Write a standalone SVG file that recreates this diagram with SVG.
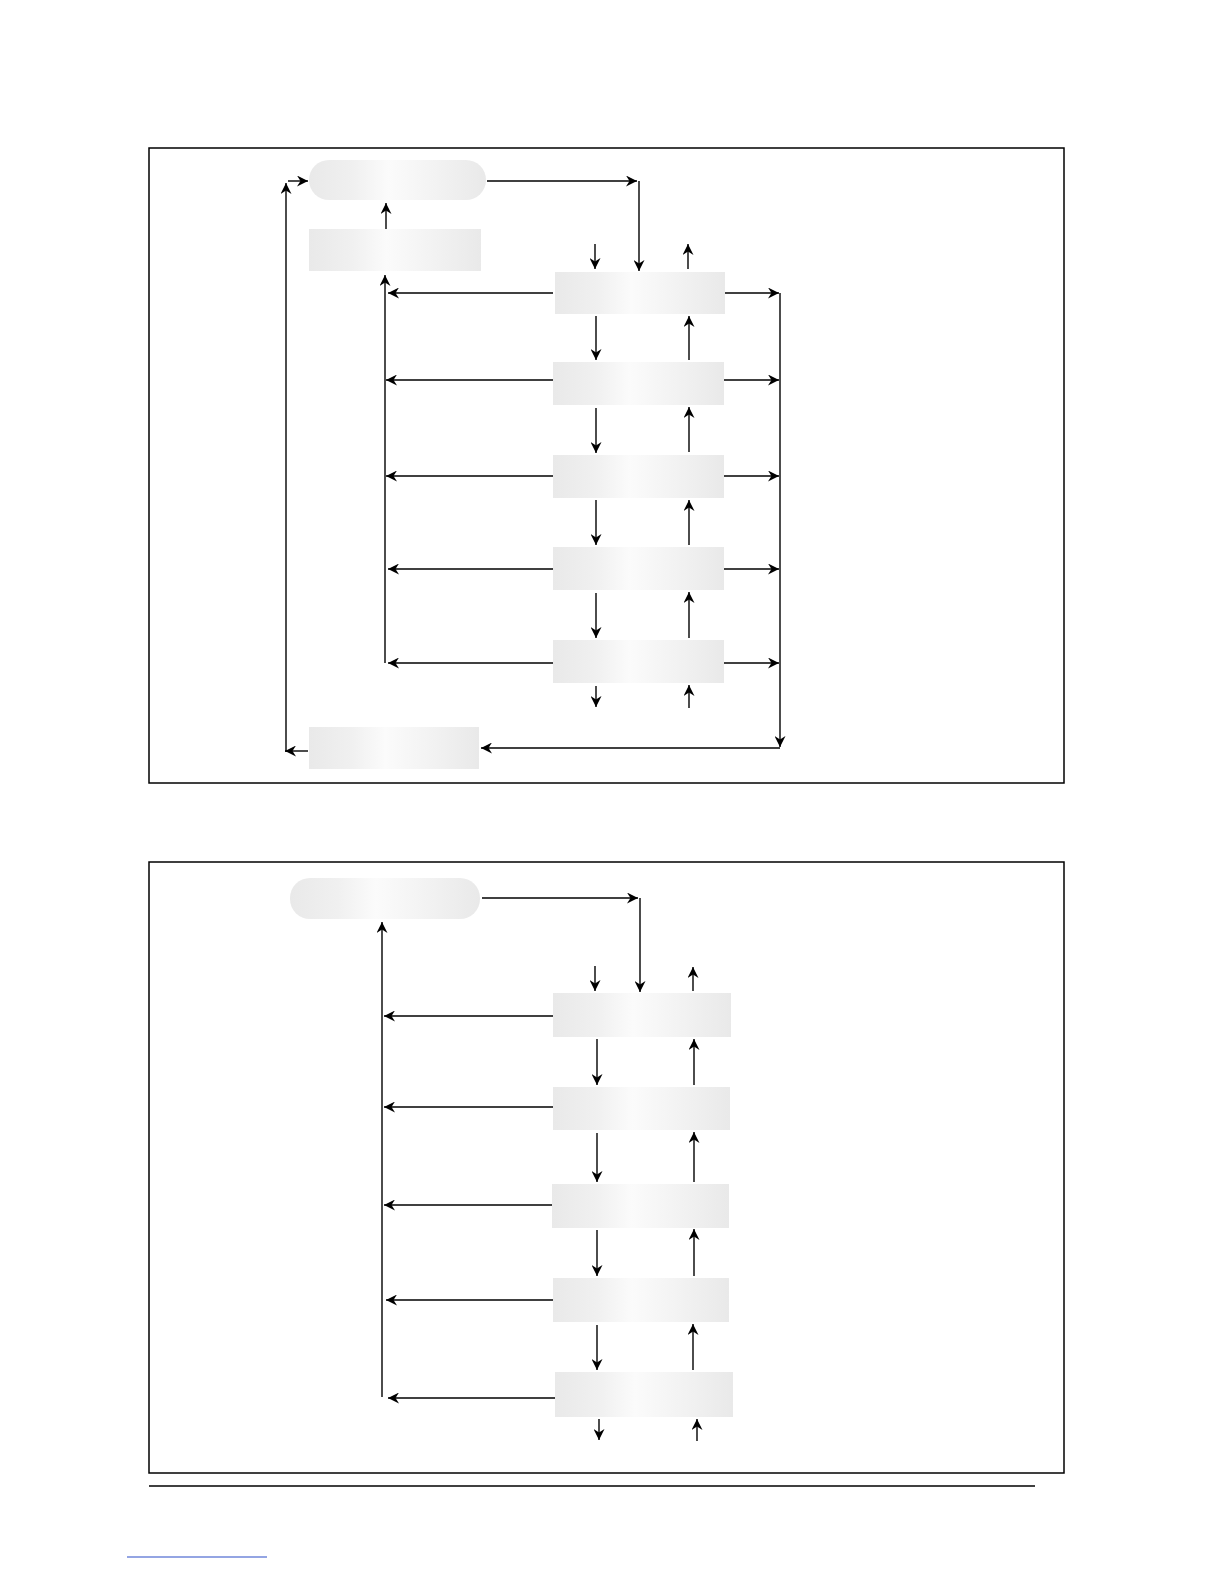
<svg xmlns="http://www.w3.org/2000/svg" width="1224" height="1584" viewBox="0 0 1224 1584">
<style>
.frame{fill:none;stroke:#000;stroke-width:1.5}
.box{fill:url(#g);filter:url(#soft)}
.c line{fill:none;stroke:#000;stroke-width:1.4;marker-end:url(#ah)}
</style>
<defs>
<linearGradient id="g" x1="0" y1="0" x2="1" y2="0">
<stop offset="0" stop-color="#e9e9e9"/>
<stop offset="0.25" stop-color="#f0f0f0"/>
<stop offset="0.45" stop-color="#fbfbfb"/>
<stop offset="0.7" stop-color="#f3f3f3"/>
<stop offset="1" stop-color="#e9e9e9"/>
</linearGradient>
<filter id="soft" x="-5%" y="-10%" width="110%" height="120%"><feGaussianBlur stdDeviation="0.7"/></filter>
<marker id="ah" markerUnits="userSpaceOnUse" markerWidth="12" markerHeight="11" refX="11" refY="5.5" orient="auto">
<path d="M0,0 L11,5.5 L0,11 L3.5,5.5 z" fill="#000"/>
</marker>
</defs>
<rect width="1224" height="1584" fill="#fff"/>

<rect class="frame" x="149" y="148" width="915" height="635"/>
<rect class="frame" x="149" y="862" width="915" height="611"/>
<line x1="149" y1="1486" x2="1035" y2="1486" stroke="#000" stroke-width="1.5"/>
<line x1="127" y1="1557" x2="267" y2="1557" stroke="#2a4cc8" stroke-width="1.2"/>

<!-- upper panel nodes -->
<g id="u-start"><rect class="box" x="309" y="160" width="177" height="40" rx="20"/></g>
<g id="u-a"><rect class="box" x="309" y="229" width="172" height="42"/></g>
<g id="u-1"><rect class="box" x="555" y="272" width="170" height="42"/></g>
<g id="u-2"><rect class="box" x="553" y="362" width="171" height="43"/></g>
<g id="u-3"><rect class="box" x="553" y="455" width="171" height="43"/></g>
<g id="u-4"><rect class="box" x="553" y="547" width="171" height="43"/></g>
<g id="u-5"><rect class="box" x="553" y="640" width="171" height="43"/></g>
<g id="u-b"><rect class="box" x="309" y="727" width="170" height="42"/></g>

<!-- lower panel nodes -->
<g id="l-start"><rect class="box" x="290" y="878" width="190" height="41" rx="20"/></g>
<g id="l-1"><rect class="box" x="553" y="993" width="178" height="44"/></g>
<g id="l-2"><rect class="box" x="553" y="1087" width="177" height="43"/></g>
<g id="l-3"><rect class="box" x="552" y="1184" width="177" height="44"/></g>
<g id="l-4"><rect class="box" x="553" y="1278" width="176" height="44"/></g>
<g id="l-5"><rect class="box" x="555" y="1372" width="178" height="45"/></g>

<g id="connectors" class="c">
<!-- upper -->
<line x1="286" y1="752" x2="286" y2="183"/>
<line x1="288" y1="181" x2="308" y2="181"/>
<line x1="386" y1="229" x2="386" y2="203"/>
<line x1="487" y1="181" x2="637" y2="181"/>
<line x1="639" y1="181" x2="639" y2="271"/>
<line x1="595" y1="244" x2="595" y2="269"/>
<line x1="688" y1="269" x2="688" y2="244"/>
<line x1="385" y1="663" x2="385" y2="275"/>
<line x1="553" y1="293" x2="388" y2="293"/>
<line x1="553" y1="380" x2="386" y2="380"/>
<line x1="553" y1="476" x2="386" y2="476"/>
<line x1="553" y1="569" x2="388" y2="569"/>
<line x1="553" y1="663" x2="388" y2="663"/>
<line x1="725" y1="293" x2="779" y2="293"/>
<line x1="724" y1="380" x2="779" y2="380"/>
<line x1="724" y1="476" x2="779" y2="476"/>
<line x1="724" y1="569" x2="779" y2="569"/>
<line x1="724" y1="663" x2="779" y2="663"/>
<line x1="780" y1="293" x2="780" y2="747"/>
<line x1="780" y1="748" x2="481" y2="748"/>
<line x1="308" y1="751" x2="285" y2="751"/>
<line x1="596" y1="316" x2="596" y2="360"/>
<line x1="596" y1="408" x2="596" y2="453"/>
<line x1="596" y1="500" x2="596" y2="545"/>
<line x1="596" y1="593" x2="596" y2="638"/>
<line x1="596" y1="686" x2="596" y2="707"/>
<line x1="689" y1="360" x2="689" y2="316"/>
<line x1="689" y1="452" x2="689" y2="407"/>
<line x1="689" y1="545" x2="689" y2="500"/>
<line x1="689" y1="638" x2="689" y2="592"/>
<line x1="689" y1="708" x2="689" y2="685"/>
<!-- lower -->
<line x1="482" y1="898" x2="638" y2="898"/>
<line x1="640" y1="898" x2="640" y2="992"/>
<line x1="595" y1="966" x2="595" y2="991"/>
<line x1="693" y1="991" x2="693" y2="967"/>
<line x1="382" y1="1397" x2="382" y2="922"/>
<line x1="553" y1="1016" x2="384" y2="1016"/>
<line x1="553" y1="1107" x2="384" y2="1107"/>
<line x1="552" y1="1205" x2="384" y2="1205"/>
<line x1="553" y1="1300" x2="386" y2="1300"/>
<line x1="555" y1="1398" x2="388" y2="1398"/>
<line x1="597" y1="1039" x2="597" y2="1085"/>
<line x1="597" y1="1133" x2="597" y2="1182"/>
<line x1="597" y1="1230" x2="597" y2="1276"/>
<line x1="597" y1="1325" x2="597" y2="1370"/>
<line x1="599" y1="1419" x2="599" y2="1440"/>
<line x1="694" y1="1085" x2="694" y2="1039"/>
<line x1="694" y1="1182" x2="694" y2="1132"/>
<line x1="694" y1="1276" x2="694" y2="1229"/>
<line x1="693" y1="1370" x2="693" y2="1324"/>
<line x1="697" y1="1441" x2="697" y2="1419"/>
</g>
</svg>
